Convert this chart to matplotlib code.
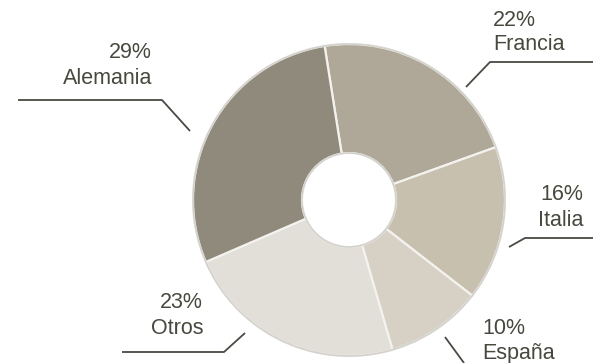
import matplotlib.pyplot as plt
from matplotlib.patches import Circle

plt.rcParams['font.family'] = ['Liberation Sans', 'DejaVu Sans']

countries = ['Francia', 'Italia', 'España', 'Otros', 'Alemania']
shares = [22, 16, 10, 23, 29]
colors = ['#afa898', '#c7c0ae', '#d7d1c5', '#e2dfd8', '#908a7c']

# label anchor (x, y centre of the "NN%" line, ha) and leader polyline, in pixels from top-left
labels = {
    'Francia':  dict(xy=(493, 20), ha='left', leader=[(593, 62), (490, 62), (466, 87)]),
    'Italia':   dict(xy=(583, 195), ha='right', leader=[(593, 238), (525, 238), (509, 247)]),
    'España':   dict(xy=(482, 328), ha='left', leader=[(445, 337), (464, 363)]),
    'Otros':    dict(xy=(203, 303), ha='right', leader=[(122, 352), (224, 352), (245, 333)]),
    'Alemania': dict(xy=(152, 53), ha='right', leader=[(18, 100), (162, 100), (190, 131)]),
}
line_gap = 25

W, H = 593, 363
fig = plt.figure(figsize=(W / 100, H / 100), dpi=100)
ax = fig.add_axes([0, 0, 1, 1])

cx, cy, r = 349, H - 200, 156
ax.pie(shares, colors=colors, startangle=99, counterclock=False,
       center=(cx, cy), radius=r, frame=True,
       wedgeprops=dict(width=r - 47, edgecolor='#f4f2ee', linewidth=1.6))
ax.set_xlim(0, W)
ax.set_ylim(0, H)
ax.set_aspect('equal')
ax.axis('off')
ax.add_patch(Circle((cx, cy), r, fill=False, edgecolor='#d3d1cc', linewidth=1.2))
ax.add_patch(Circle((cx, cy), 47, fill=False, edgecolor='#d3d1cc', linewidth=1.2))

for name, share in zip(countries, shares):
    lab = labels[name]
    x, y = lab['xy']
    ax.text(x, H - y, f'{share}%', ha=lab['ha'], va='center',
            fontsize=15.5, color='#48483f')
    ax.text(x, H - y - line_gap, name, ha=lab['ha'], va='center',
            fontsize=15.5, color='#48483f')
    xs = [p[0] for p in lab['leader']]
    ys = [H - p[1] for p in lab['leader']]
    ax.plot(xs, ys, color='#4a4a44', linewidth=1.3, solid_capstyle='butt')

fig.savefig('out.png', dpi=100)
